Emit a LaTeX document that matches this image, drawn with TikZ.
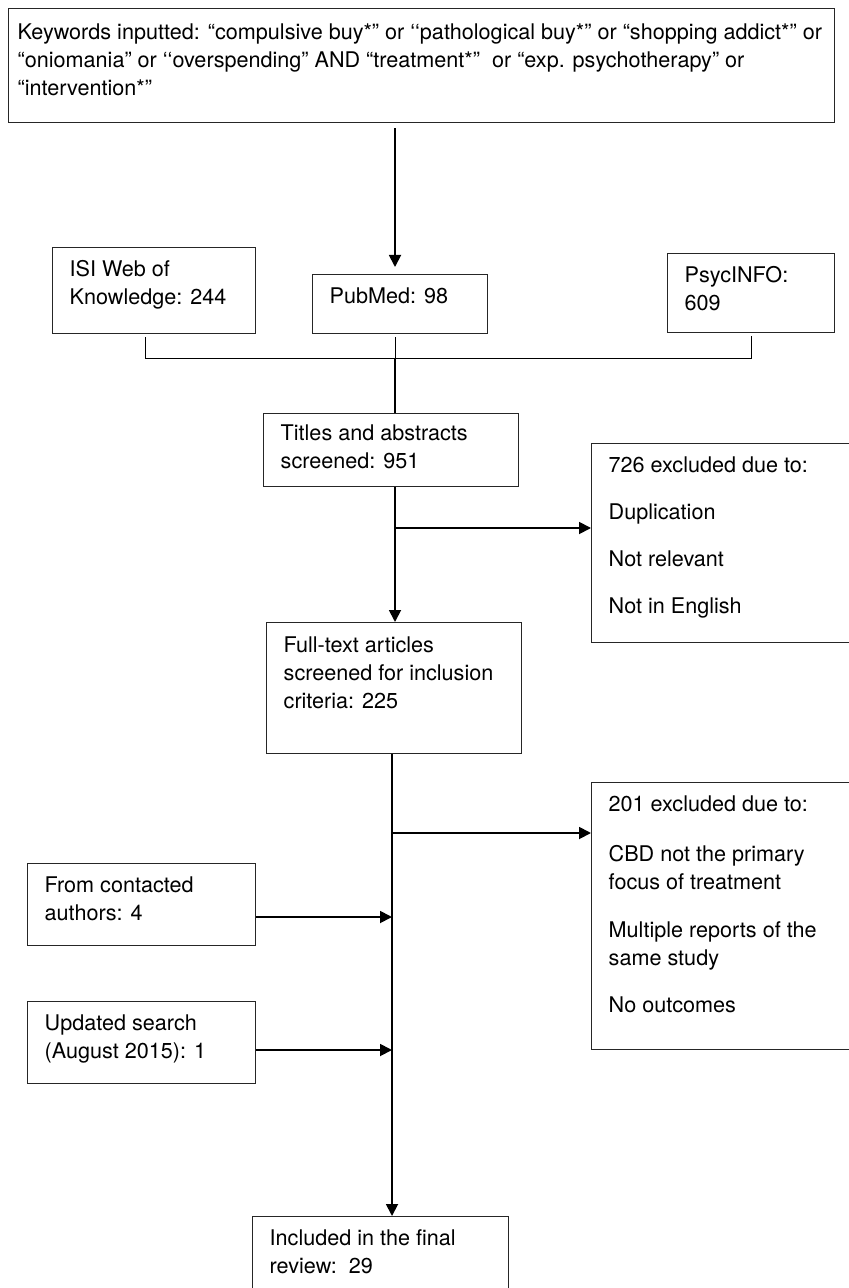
\documentclass[tikz,border=0pt]{standalone}
\usepackage{fontspec}
\setmainfont{TeX Gyre Heros}
\usetikzlibrary{arrows.meta}

\newcommand{\boxtext}[4][14.5pt]{\parbox[t][#3][t]{#2}{\raggedright\rule{0pt}{#1}#4}}

\begin{document}
\begin{tikzpicture}[x=0.5pt,y=-0.5pt,>={Triangle[length=6pt,width=6pt]}]
        \tikzstyle{box}=[draw=black!85,line width=0.7pt,anchor=north west,inner xsep=8.5pt,inner ysep=0pt,font=\fontsize{10.8}{14}\selectfont]
        \tikzstyle{flow}=[line width=0.9pt]
        \tikzstyle{thin flow}=[line width=0.5pt]
        \useasboundingbox (0,0) rectangle (848,1288);
        % search terms and databases
        \node[box,inner xsep=4.5pt] (keys) at (8,8) {\boxtext[15.5pt]{404pt}{57pt}{%
            \mbox{Keywords inputted: “compulsive buy*” or ‘‘pathological buy*” or “shopping addict*” or}\\
            \mbox{“oniomania” or ‘‘overspending” AND “treatment*”\ \ or “exp. psychotherapy” or}\\
            \mbox{“intervention*”}}};
        \node[box] (isi) at (52,247) {\boxtext{84.5pt}{43pt}{ISI Web of\\Knowledge: 244}};
        \node[box] (pub) at (312,274) {\boxtext{70.5pt}{29.5pt}{PubMed: 98}};
        \node[box] (psy) at (667,253) {\boxtext{66.5pt}{39.5pt}{PsycINFO:\\609}};
        % screening
        \node[box] (titles) at (263,413) {\boxtext[13.5pt]{110.5pt}{36.5pt}{Titles and abstracts\\screened: 951}};
        \node[box] (ex1) at (591,443) {\boxtext{115pt}{99.5pt}{726 excluded due to:\\[9.5pt]
            Duplication\\[9.5pt]Not relevant\\[9.5pt]Not in English}};
        \node[box] (full) at (266,622) {\boxtext[15pt]{110.5pt}{65.5pt}{Full-text articles\\screened for inclusion\\criteria: 225}};
        \node[box] (ex2) at (591,782) {\boxtext{115pt}{133.5pt}{201 excluded due to:\\[11pt]
            CBD not the primary\\focus of treatment\\[10pt]Multiple reports of the\\same study\\[9.5pt]No outcomes}};
        \node[box] (from) at (27,863) {\boxtext{97pt}{41pt}{From contacted\\authors: 4}};
        \node[box] (upd) at (27,1001) {\boxtext{97pt}{41pt}{Updated search\\(August 2015): 1}};
        \node[box] (incl) at (252,1216) {\boxtext{111pt}{42pt}{Included in the final\\review:\ \ 29}};
        % junctions
        \coordinate (j1) at (395,359);
        \coordinate (j2) at (395,528);
        \coordinate (j3) at (392,833);
        \coordinate (j4) at (392,917);
        \coordinate (j5) at (392,1050);
        \draw[flow,->,shorten <=2.5pt,shorten >=3.5pt] (keys.south -| j1) -- (pub.north -| j1);
        \draw[thin flow,shorten <=1.5pt,shorten >=1.5pt] ([xshift=-4.25pt]isi.south) |- (psy.south |- j1) -- (psy.south);
        \draw[thin flow,shorten <=1.5pt] (pub.south -| j1) -- (j1);
        \draw[flow] (j1) -- (titles.north -| j1);
        \draw[flow,->] (titles.south -| j1) -- (full.north -| j1);
        \draw[flow,->] (j2) -- (ex1.west |- j2);
        \draw[flow,->] (full.south -| j3) -- (incl.north -| j3);
        \draw[flow,->] (j3) -- (ex2.west |- j3);
        \draw[flow,->] (from.east |- j4) -- (j4);
        \draw[flow,->] (upd.east |- j5) -- (j5);
\end{tikzpicture}
\end{document}
